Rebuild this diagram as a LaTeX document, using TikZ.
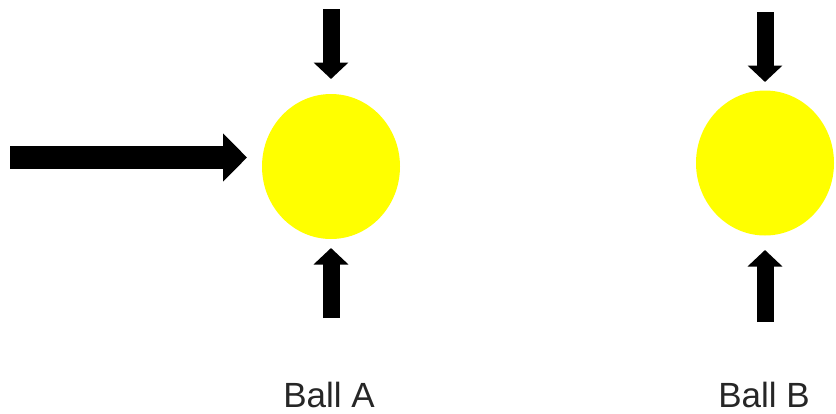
\documentclass[tikz,border=0pt]{standalone}
\usepackage{fontspec}
\setmainfont{Liberation Sans}
\usetikzlibrary{arrows.meta,shapes.geometric}
\definecolor{ballyellow}{HTML}{FFFF00}
\begin{document}
\begin{tikzpicture}[x=1pt,y=-1pt,
  ball/.style={ellipse, fill=ballyellow, draw=none, inner sep=0pt},
  bigpush/.style={line width=23pt, -{Triangle[length=24pt,width=47pt]}},
  smallpush/.style={line width=17pt, -{Triangle[length=16.5pt,width=34pt]}},
  label/.style={font=\fontsize{35}{40}\selectfont, anchor=base, text=black!85}]
\useasboundingbox (0,0) rectangle (836,413);
% balls
\node[ball, minimum width=138pt, minimum height=145pt] (ballA) at (331,166.5) {};
\node[ball, minimum width=138pt, minimum height=145pt] (ballB) at (765,163) {};
% labels
\node[label] (labA) at (329,407) {Ball A};
\node[label] (labB) at (764,407) {Ball B};
% coordinates for arrow ends
\coordinate (hstart) at (10,157.5);
\coordinate (htip) at (247,157.5);
\coordinate (atopS) at (331,9);
\coordinate (atopT) at (331,79);
\coordinate (abotS) at (331,318);
\coordinate (abotT) at (331,248);
\coordinate (btopS) at (765,12);
\coordinate (btopT) at (765,82);
\coordinate (bbotS) at (765,322);
\coordinate (bbotT) at (765,250);
% arrows
\draw[bigpush] (hstart) -- (htip);
\draw[smallpush] (atopS) -- (atopT);
\draw[smallpush] (abotS) -- (abotT);
\draw[smallpush] (btopS) -- (btopT);
\draw[smallpush] (bbotS) -- (bbotT);
\end{tikzpicture}
\end{document}
